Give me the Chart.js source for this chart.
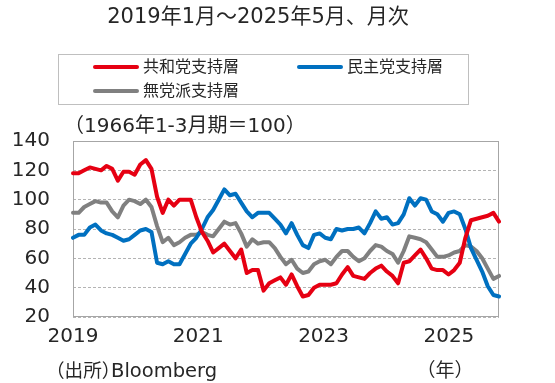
<!DOCTYPE html>
<html><head><meta charset="utf-8">
<script src="https://cdn.jsdelivr.net/npm/chart.js@4.4.1/dist/chart.umd.min.js"></script>
<style>html,body{margin:0;padding:0;background:#fff;}#wrap{width:555px;height:383px;}</style>
</head><body><div id="wrap"><canvas id="c" width="555" height="383"></canvas></div>
<script>
// ---- text ----
const titleText = '2019年1月～2025年5月、月次';
const subtitleText = '（1966年1-3月期＝100）';
const sourceLabel = '（出所）';
const sourceName = 'Bloomberg';
const unitText = '（年）';
const seriesNames = ['共和党支持層', '民主党支持層', '無党派支持層'];
const yearTicks = ['2019', '2021', '2023', '2025'];
const yTicks = [20, 40, 60, 80, 100, 120, 140];

// ---- categories: monthly, 2019-01 .. 2025-05 ----
const months = [];
for (let y = 2019; y <= 2025; y++) {
  for (let m = 1; m <= 12; m++) {
    if (y === 2025 && m > 5) break;
    months.push(y + '/' + m);
  }
}

// ---- series values ----
const republican = [118,118,120,122,121,120,123,121,113,119, 119,117,124,127,121,102,91,100,96,100,
  100,100,88,78,72,64,67,70,65,60, 66,50,52,52,38,43,45,47,42,49,
  41,34,35,40,42,42,42,43,49,54, 48,47,46,50,53,55,51,48,43,57,
  58,62,66,60,53,52,52,49,52,57, 74,86,87,88,89,91,85];
const democrat = [74,76,76,81,83,79,77,76,74,72, 73,76,79,80,78,57,56,58,56,56,
  63,70,74,80,88,93,100,107,103,104, 98,92,88,91,91,91,87,83,77,84,
  76,69,67,76,77,74,73,80,79,80, 80,81,77,84,92,87,88,83,84,90,
  101,96,101,100,92,90,85,91,92,90, 80,67,59,51,41,35,34];
const independent = [91,91,95,97,99,98,98,92,88,96, 100,99,97,100,95,82,71,74,69,71,
  74,76,76,78,76,75,80,85,83,84, 77,68,73,70,71,71,67,61,56,59,
  53,50,51,56,58,59,56,61,65,65, 61,58,60,65,69,68,65,63,57,65,
  75,74,73,71,66,61,61,62,64,65, 69,68,65,60,53,46,48];

const seriesColors = ['#e60012', '#0070c0', '#808080'];
const FONT = '"DejaVu Sans", "Noto Sans CJK JP", sans-serif';
const TXT = '#262626';

// draw text so that its ink spans [inkL, inkR] horizontally
function fitText(ctx, text, inkL, inkR, y, size) {
  ctx.textAlign = 'left';
  ctx.font = size + 'px ' + FONT;
  let m = ctx.measureText(text);
  let w = m.actualBoundingBoxLeft + m.actualBoundingBoxRight;
  let s = size * (inkR - inkL) / w;
  s = Math.max(size * 0.85, Math.min(size * 1.15, s));
  ctx.font = s.toFixed(2) + 'px ' + FONT;
  m = ctx.measureText(text);
  ctx.fillText(text, inkL + m.actualBoundingBoxLeft, y);
}

const decor = {
  id: 'decor',
  beforeDatasetsDraw(chart) {
    const {ctx, chartArea: a} = chart;
    ctx.save();
    ctx.strokeStyle = '#a6a6a6';
    ctx.lineWidth = 1;
    ctx.setLineDash([]);
    ctx.strokeRect(a.left + 0.5, a.top + 0.5, a.right - a.left - 1, a.bottom - a.top - 1);
    ctx.restore();
  },
  afterDraw(chart) {
    const ctx = chart.ctx;
    ctx.save();
    ctx.fillStyle = TXT;
    ctx.textBaseline = 'middle';
    // title
    ctx.font = '21px ' + FONT;
    ctx.textAlign = 'center';
    ctx.fillText(titleText, 258, 18);
    // legend box
    ctx.strokeStyle = '#bfbfbf';
    ctx.lineWidth = 1;
    ctx.strokeRect(58.5, 54.5, 410, 50);
    const slots = [[93, 67], [297, 67], [93, 91]];
    ctx.font = '16px ' + FONT;
    ctx.textAlign = 'left';
    chart.data.datasets.forEach((ds, i) => {
      const [x, y] = slots[i];
      ctx.strokeStyle = ds.borderColor;
      ctx.lineWidth = 4;
      ctx.lineCap = 'round';
      ctx.beginPath(); ctx.moveTo(x + 2, y); ctx.lineTo(x + 44, y); ctx.stroke();
      ctx.fillStyle = TXT;
      ctx.fillText(ds.label, x + 50, y + 1);
    });
    // subtitle
    ctx.font = '20px ' + FONT;
    ctx.fillText(subtitleText, 64, 127);
    // source & unit
    fitText(ctx, sourceLabel, 58, 107, 372, 19);
    fitText(ctx, sourceName, 112, 216, 372, 19);
    ctx.font = '19px ' + FONT;
    ctx.textAlign = 'center';
    ctx.fillText(unitText, 445, 372);
    ctx.restore();
  }
};

const mk = (i, data) => ({
  label: seriesNames[i], data, borderColor: seriesColors[i], backgroundColor: seriesColors[i],
  borderWidth: 4, pointRadius: 0, tension: 0, borderJoinStyle: 'round', borderCapStyle: 'round',
  xAxisID: 'x', yAxisID: 'y'
});

new Chart(document.getElementById('c'), {
  type: 'line',
  data: {
    labels: months,
    datasets: [mk(0, republican), mk(1, democrat), mk(2, independent)]
  },
  options: {
    responsive: false, animation: false, devicePixelRatio: 1,
    layout: {padding: {top: 141, right: 56, bottom: 26, left: 0}},
    plugins: {legend: {display: false}, title: {display: false}, tooltip: {enabled: false}},
    scales: {
      x: {type: 'category', display: false, offset: false},
      xYear: {
        type: 'linear', position: 'bottom', min: 2019, max: 2025.8,
        grid: {display: false, drawTicks: false}, border: {display: false},
        afterBuildTicks(s) { s.ticks = yearTicks.map(v => ({value: +v})); },
        ticks: {autoSkip: false, maxRotation: 0, padding: 8, color: TXT, font: {family: FONT, size: 20},
          callback: (v) => String(v)},
        afterFit(s) { s.height = 40; }
      },
      y: {
        min: 20, max: 140,
        afterBuildTicks(s) { s.ticks = yTicks.map(v => ({value: v})); },
        ticks: {padding: 23, color: TXT, font: {family: FONT, size: 20}},
        grid: {color: '#b4b4b4', lineWidth: 1, drawTicks: false},
        border: {display: false, dash: [3, 2]},
        afterFit(s) { s.width = 73; }
      }
    }
  },
  plugins: [decor]
});
</script></body></html>
